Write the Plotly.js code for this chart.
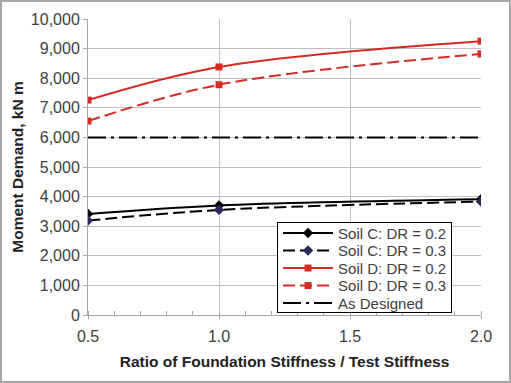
<!DOCTYPE html>
<html><head><meta charset="utf-8">
<script src="https://cdn.plot.ly/plotly-3.0.1.min.js"></script>
<style>
html,body{margin:0;padding:0;background:#fff;}
#wrap{position:relative;width:511px;height:383px;}
#chart{width:511px;height:383px;}
#frame{position:absolute;left:0;top:0;width:511px;height:383px;box-sizing:border-box;border:2px solid #a6a6a6;pointer-events:none;}
</style></head>
<body>
<div id="wrap"><div id="chart"></div><div id="frame"></div></div>
<script>
const ratio = [0.5, 1.0, 2.0];
const soilC_DR02 = [3410, 3700, 3910];
const soilC_DR03 = [3190, 3550, 3830];
const soilD_DR02 = [7260, 8380, 9250];
const soilD_DR03 = [6550, 7780, 8820];
const designRatio = [0.5, 2.0];
const asDesigned = [6000, 6000];
const names = ["Soil C: DR = 0.2", "Soil C: DR = 0.3", "Soil D: DR = 0.2", "Soil D: DR = 0.3", "As Designed"];
const yTicks = [0,1000,2000,3000,4000,5000,6000,7000,8000,9000,10000];
const xTicks = [0.5, 1.0, 1.5, 2.0];

const red = '#d62a24';
const traces = [
  {x: ratio, y: soilC_DR02, name: names[0], mode: 'lines+markers',
   line: {color: '#000', width: 2, shape: 'spline', smoothing: 1},
   marker: {symbol: 'diamond', size: 8, color: '#000'}},
  {x: ratio, y: soilC_DR03, name: names[1], mode: 'lines+markers',
   line: {color: '#000', width: 2, dash: '12px,5px', shape: 'spline', smoothing: 1},
   marker: {symbol: 'diamond', size: 8, color: '#2e2b5c'}},
  {x: ratio, y: soilD_DR02, name: names[2], mode: 'lines+markers',
   line: {color: red, width: 2, shape: 'spline', smoothing: 1},
   marker: {symbol: 'square', size: 7, color: red}},
  {x: ratio, y: soilD_DR03, name: names[3], mode: 'lines+markers',
   line: {color: red, width: 2, dash: '12px,5px', shape: 'spline', smoothing: 1},
   marker: {symbol: 'square', size: 7, color: red}},
  {x: designRatio, y: asDesigned, name: names[4], mode: 'lines',
   line: {color: '#000', width: 2, dash: '18px,5px,3px,5px'}}
];

const titleFont = {size: 15.5, color: '#222', family: 'Liberation Sans, Arial, sans-serif', weight: 'bold'};
const layout = {
  width: 511, height: 383,
  margin: {l: 88, r: 30, t: 19, b: 68},
  paper_bgcolor: '#fff', plot_bgcolor: '#fff',
  font: {family: 'Liberation Sans, Arial, sans-serif', color: '#404040'},
  showlegend: true,
  legend: {x: 0.481, y: 0.314, xanchor: 'left', yanchor: 'top',
    bordercolor: '#000', borderwidth: 1, bgcolor: '#fff',
    font: {size: 15, color: '#404040'}, tracegroupgap: 0, itemwidth: 50},
  xaxis: {range: [0.5, 2.0], tickvals: xTicks, ticktext: xTicks.map(v => v.toFixed(1)),
    showgrid: true, gridcolor: '#bfbfbf', gridwidth: 1,
    showline: true, linecolor: '#a6a6a6', linewidth: 1, zeroline: false,
    ticks: 'outside', ticklen: 3, tickcolor: '#a6a6a6', ticklabelstandoff: 4,
    minor: {dtick: 0.1, tick0: 0.5, ticks: 'inside', ticklen: 4, tickcolor: '#a6a6a6', showgrid: false},
    tickfont: {size: 16, color: '#404040'},
    title: {text: 'Ratio of Foundation Stiffness / Test Stiffness', standoff: 11, font: titleFont}},
  yaxis: {range: [0, 10000], tickvals: yTicks, ticktext: yTicks.map(v => v.toLocaleString('en-US')),
    showgrid: true, gridcolor: '#bfbfbf', gridwidth: 1,
    showline: true, linecolor: '#a6a6a6', linewidth: 1, zeroline: false,
    ticks: 'outside', ticklen: 4, tickcolor: '#a6a6a6',
    tickfont: {size: 16, color: '#404040'},
    title: {text: 'Moment Demand, kN m', standoff: 3, font: titleFont}}
};
Plotly.newPlot('chart', traces, layout, {displayModeBar: false, staticPlot: true}).then(gd => {
  // tighten legend row spacing to match the reference
  const items = gd.querySelectorAll('.legend .traces');
  const step = 17.5, first = 11;
  items.forEach((g, i) => {
    const t = g.getAttribute('transform') || '';
    const m = t.match(/translate\(\s*([-\d.]+)[ ,]+([-\d.]+)\s*\)/);
    const x = m ? m[1] : 0;
    g.setAttribute('transform', 'translate(' + x + ',' + (first + i * step) + ')');
  });
  const bg = gd.querySelector('.legend .bg');
  if (bg) bg.setAttribute('height', first * 2 + (items.length - 1) * step - 2);
});
</script>
</body></html>
